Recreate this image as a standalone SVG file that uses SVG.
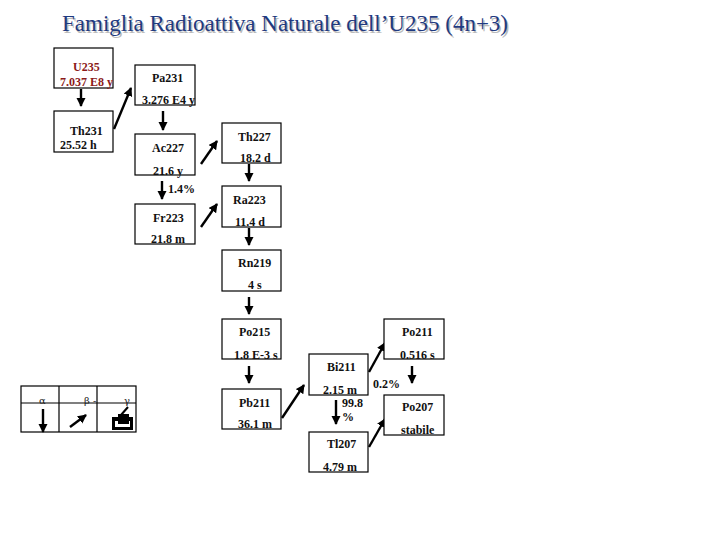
<svg xmlns="http://www.w3.org/2000/svg" width="720" height="540" viewBox="0 0 720 540">
<style>
.b{fill:#fff;stroke:#000;stroke-width:1.2}
text{font-family:"Liberation Serif","Times New Roman",serif;font-size:12px;font-weight:bold;fill:#111}
.c line{stroke:#000;stroke-width:2.4;marker-end:url(#a)}
.l{stroke:#000;stroke-width:1.2;fill:none}
.t{font-size:23px;font-weight:normal}
.g{font-family:"DejaVu Serif",serif;font-weight:normal;font-size:10px;fill:#222}
</style>
<defs><marker id="a" markerUnits="userSpaceOnUse" markerWidth="11" markerHeight="11" refX="8" refY="4.500" orient="auto"><path d="M0 0L9 4.500L0 9Z" fill="#000"/></marker></defs>
<rect width="720" height="540" fill="#fff"/>
<g id="title"><text class="t" x="63.500" y="32.500" style="fill:#bbb">Famiglia Radioattiva Naturale dell’U235 (4n+3)</text><text class="t" x="62" y="31" style="fill:#1f3a80">Famiglia Radioattiva Naturale dell’U235 (4n+3)</text></g>
<g class="c">
<line x1="81" y1="89" x2="81" y2="106"/>
<line x1="114" y1="129" x2="131" y2="88"/>
<line x1="163" y1="111" x2="163" y2="130"/>
<line x1="201" y1="164" x2="217" y2="141"/>
<line x1="162" y1="181" x2="162" y2="199"/>
<line x1="201" y1="227" x2="217" y2="204"/>
<line x1="249" y1="164" x2="249" y2="181"/>
<line x1="249" y1="228" x2="249" y2="245"/>
<line x1="249" y1="297" x2="249" y2="314"/>
<line x1="249" y1="366" x2="249" y2="383"/>
<line x1="282" y1="418" x2="304" y2="385"/>
<line x1="336" y1="400" x2="336" y2="424"/>
<line x1="369" y1="372" x2="385" y2="343"/>
<line x1="412" y1="366" x2="412" y2="383"/>
<line x1="369" y1="447" x2="385" y2="419"/>
<line x1="43" y1="409" x2="43" y2="432"/>
<line x1="70" y1="427" x2="86" y2="415"/>
</g>
<g id="U235"><rect class="b" x="54" y="48" width="59" height="40"/><text x="73" y="71" style="fill:#8b1a1a">U235</text><text x="60" y="86" style="fill:#8b1a1a">7.037 E8 y</text></g>
<g id="Th231"><rect class="b" x="54" y="111" width="59" height="41"/><text x="70" y="135">Th231</text><text x="60" y="149">25.52 h</text></g>
<g id="Pa231"><rect class="b" x="135" y="65" width="60" height="40"/><text x="152" y="82">Pa231</text><text x="142" y="104">3.276 E4 y</text></g>
<g id="Ac227"><rect class="b" x="135" y="134" width="60" height="41"/><text x="152" y="152">Ac227</text><text x="153" y="175">21.6 y</text></g>
<g id="Th227"><rect class="b" x="222" y="123" width="59" height="40"/><text x="238" y="141">Th227</text><text x="240" y="162">18.2 d</text></g>
<g id="Fr223"><rect class="b" x="135" y="204" width="60" height="40"/><text x="153" y="222">Fr223</text><text x="151" y="243">21.8 m</text></g>
<g id="Ra223"><rect class="b" x="222" y="186" width="59" height="41"/><text x="233" y="204">Ra223</text><text x="235" y="226">11.4 d</text></g>
<g id="Rn219"><rect class="b" x="222" y="250" width="59" height="41"/><text x="238" y="267">Rn219</text><text x="248" y="289">4 s</text></g>
<g id="Po215"><rect class="b" x="222" y="319" width="59" height="40"/><text x="239" y="336">Po215</text><text x="234" y="359">1.8 E-3 s</text></g>
<g id="Pb211"><rect class="b" x="222" y="389" width="59" height="40"/><text x="239" y="407">Pb211</text><text x="238" y="428">36.1 m</text></g>
<g id="Bi211"><rect class="b" x="309" y="354" width="59" height="41"/><text x="327" y="371">Bi211</text><text x="323" y="394">2.15 m</text></g>
<g id="Po211"><rect class="b" x="384" y="319" width="60" height="40"/><text x="402" y="336">Po211</text><text x="400" y="359">0.516 s</text></g>
<g id="Po207"><rect class="b" x="384" y="395" width="60" height="40"/><text x="402" y="411">Po207</text><text x="401" y="434">stabile</text></g>
<g id="Tl207"><rect class="b" x="309" y="432" width="59" height="40"/><text x="327" y="448">Tl207</text><text x="323" y="471">4.79 m</text></g>
<g id="labels"><text x="168" y="193">1.4%</text><text x="373" y="388">0.2%</text><text x="342" y="407">99.8</text><text x="342" y="421">%</text></g>
<g id="legend"><rect class="l" x="21" y="386" width="115" height="46"/><path class="l" d="M21 403H136M59 386V432M97 386V432"/>
<text class="g" x="39" y="404">α</text><text class="g" x="84" y="404">β -</text><text class="g" x="124" y="404">γ</text>
<g><path d="M112 417H133V430H112Z" fill="#000"/><path d="M115 421H130V427H115Z" fill="#fff"/><path d="M118 414H129V424H118Z" fill="#000"/><path d="M121 415L128 407" stroke="#000" stroke-width="2"/></g></g>
</svg>
